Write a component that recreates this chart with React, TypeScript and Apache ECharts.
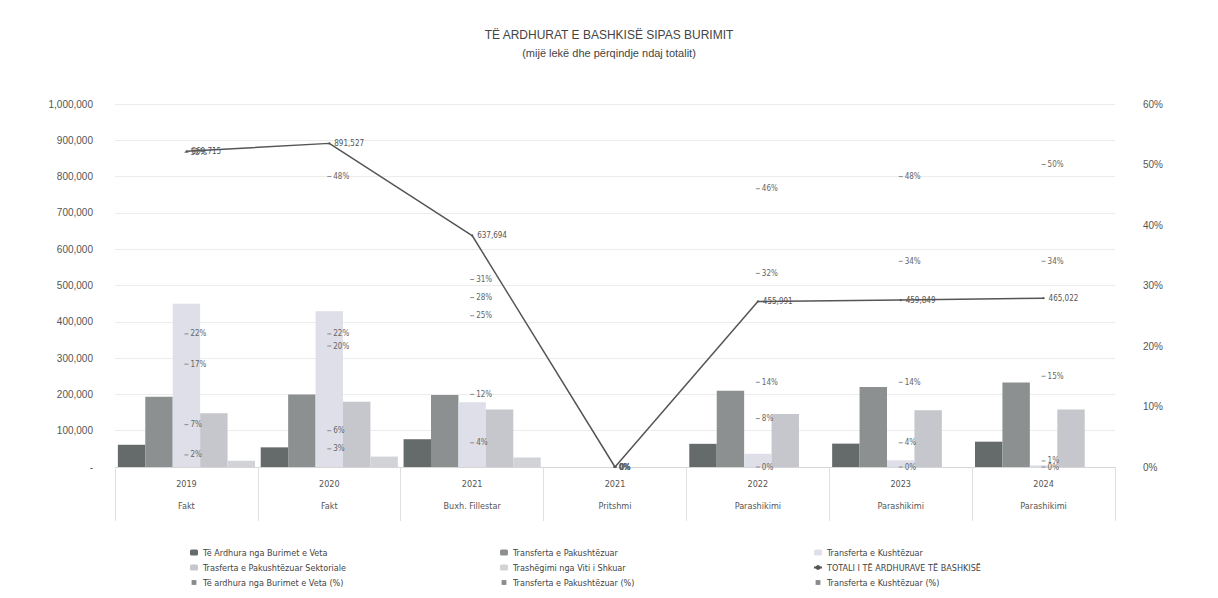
import React, { useEffect, useRef } from "react";
import * as echarts from "echarts";

const years = ["2019", "2020", "2021", "2021", "2022", "2023", "2024"];
const stages = ["Fakt", "Fakt", "Buxh. Fillestar", "Pritshmi", "Parashikimi", "Parashikimi", "Parashikimi"];

const ownRevenue = [61230, 54130, 76520, 0, 63840, 64380, 69750];
const unconditional = [193410, 199870, 198310, 0, 209760, 220730, 232510];
const conditional = [449820, 429300, 178450, 0, 36480, 18390, 4650];
const sectoral = [148060, 179520, 158240, 0, 145911, 156349, 158112];
const inherited = [17195, 28707, 26174, 0, 0, 0, 0];
const total = [869715, 891527, 637694, 0, 455991, 459849, 465022];

const ownPct = [7, 6, 12, 0, 14, 14, 15];
const unconditionalPct = [22, 22, 31, 0, 46, 48, 50];
const conditionalPct = [52, 48, 28, 0, 8, 4, 1];
const sectoralPct = [17, 20, 25, 0, 32, 34, 34];
const inheritedPct = [2, 3, 4, 0, 0, 0, 0];

const leftTicks = [0, 1000000, 100000];
const rightTicks = [0, 60, 10];

const N_OWN = "Të Ardhura nga Burimet e Veta";
const N_UNC = "Transferta e Pakushtëzuar";
const N_CON = "Transferta e Kushtëzuar";
const N_SEC = "Trasferta e Pakushtëzuar Sektoriale";
const N_INH = "Trashëgimi nga Viti i Shkuar";
const N_TOT = "TOTALI I TË ARDHURAVE TË BASHKISË";
const N_OWNP = "Të ardhura nga Burimet e Veta (%)";
const N_UNCP = "Transferta e Pakushtëzuar (%)";
const N_CONP = "Transferta e Kushtëzuar (%)";
const N_SECP = "Trasferta e Pakushtëzuar Sektoriale (%)";
const N_INHP = "Trashëgimi nga Viti i Shkuar (%)";

const FONT = "'Liberation Sans', 'DejaVu Sans', sans-serif";
const NARROW = "'Liberation Sans Narrow', 'DejaVu Sans Condensed', 'Liberation Sans', sans-serif";

export default function App() {
  const ref = useRef<HTMLDivElement>(null);
  useEffect(() => {
    document.body.style.margin = "0";
    const chart = echarts.init(ref.current!, null, { renderer: "svg" });
    const categories = years.map((y, i) => y + "\n" + stages[i]);
    const fmtNum = (v: number) => v.toLocaleString("en-US");

    const bar = (name: string, data: number[], color: string) => ({
      name,
      type: "bar",
      data,
      barGap: "0%",
      barCategoryGap: "4%",
      itemStyle: { color },
    });
    const pct = (name: string, data: number[]) => ({
      name,
      type: "line",
      yAxisIndex: 1,
      data,
      symbol: "rect",
      symbolSize: [4, 1],
      itemStyle: { color: "#8a8a8a" },
      lineStyle: { width: 0, opacity: 0 },
      label: {
        show: true,
        position: "right",
        distance: 2,
        formatter: (p: any) => p.value + "%",
        fontSize: 8,
        color: "#666",
        fontFamily: NARROW,
      },
      z: 5,
    });

    const legendBase = {
      orient: "vertical",
      top: 543,
      itemGap: 6,
      itemWidth: 8,
      itemHeight: 6,
      textStyle: { fontSize: 9, color: "#444", fontFamily: NARROW },
    };

    chart.setOption({
      animation: false,
      backgroundColor: "#ffffff",
      title: {
        text: "TË ARDHURAT E BASHKISË SIPAS BURIMIT",
        subtext: "(mijë lekë dhe përqindje ndaj totalit)",
        left: "center",
        top: 24,
        itemGap: 6,
        textStyle: { fontSize: 12, fontWeight: "normal", color: "#444", fontFamily: FONT },
        subtextStyle: { fontSize: 11, color: "#444", fontFamily: FONT },
      },
      grid: { left: 115, right: 103, top: 104, bottom: 131 },
      legend: [
        { ...legendBase, left: 185, data: [N_OWN, N_SEC, N_OWNP] },
        { ...legendBase, left: 495, data: [N_UNC, N_INH, N_UNCP] },
        { ...legendBase, left: 808, data: [N_CON, N_TOT, N_CONP] },
      ],
      xAxis: {
        type: "category",
        data: categories,
        axisLine: { lineStyle: { color: "#d6d6d6" } },
        axisTick: { show: true, length: 54, interval: 0, lineStyle: { color: "#e0e0e0" } },
        axisLabel: {
          interval: 0,
          margin: 6,
          lineHeight: 22,
          fontSize: 9,
          color: "#555",
          fontFamily: NARROW,
        },
      },
      yAxis: [
        {
          type: "value",
          min: leftTicks[0],
          max: leftTicks[1],
          interval: leftTicks[2],
          axisLine: { show: false },
          axisTick: { show: false },
          splitLine: { lineStyle: { color: "#ececec" } },
          axisLabel: {
            margin: 22,
            fontSize: 10,
            color: "#555",
            fontFamily: FONT,
            formatter: (v: number) => (v === 0 ? "-" : fmtNum(v)),
          },
        },
        {
          type: "value",
          min: rightTicks[0],
          max: rightTicks[1],
          interval: rightTicks[2],
          axisLine: { show: false },
          axisTick: { show: false },
          splitLine: { show: false },
          axisLabel: { margin: 28, fontSize: 10, color: "#555", fontFamily: FONT, formatter: "{value}%" },
        },
      ],
      series: [
        bar(N_OWN, ownRevenue, "#656a6a"),
        bar(N_UNC, unconditional, "#8c9090"),
        bar(N_CON, conditional, "#dedfe8"),
        bar(N_SEC, sectoral, "#c6c7cd"),
        bar(N_INH, inherited, "#d2d3d7"),
        {
          name: N_TOT,
          type: "line",
          data: total,
          symbol: "circle",
          symbolSize: 2,
          itemStyle: { color: "#555" },
          lineStyle: { color: "#555", width: 1.5 },
          label: {
            show: true,
            position: "right",
            distance: 4,
            formatter: (p: any) => fmtNum(p.value),
            fontSize: 8,
            color: "#555",
            fontFamily: NARROW,
          },
          z: 6,
        },
        pct(N_OWNP, ownPct),
        pct(N_UNCP, unconditionalPct),
        pct(N_CONP, conditionalPct),
        pct(N_SECP, sectoralPct),
        pct(N_INHP, inheritedPct),
      ],
    });
    return () => chart.dispose();
  }, []);
  return <div ref={ref} style={{ width: 1218, height: 598 }} />;
}
